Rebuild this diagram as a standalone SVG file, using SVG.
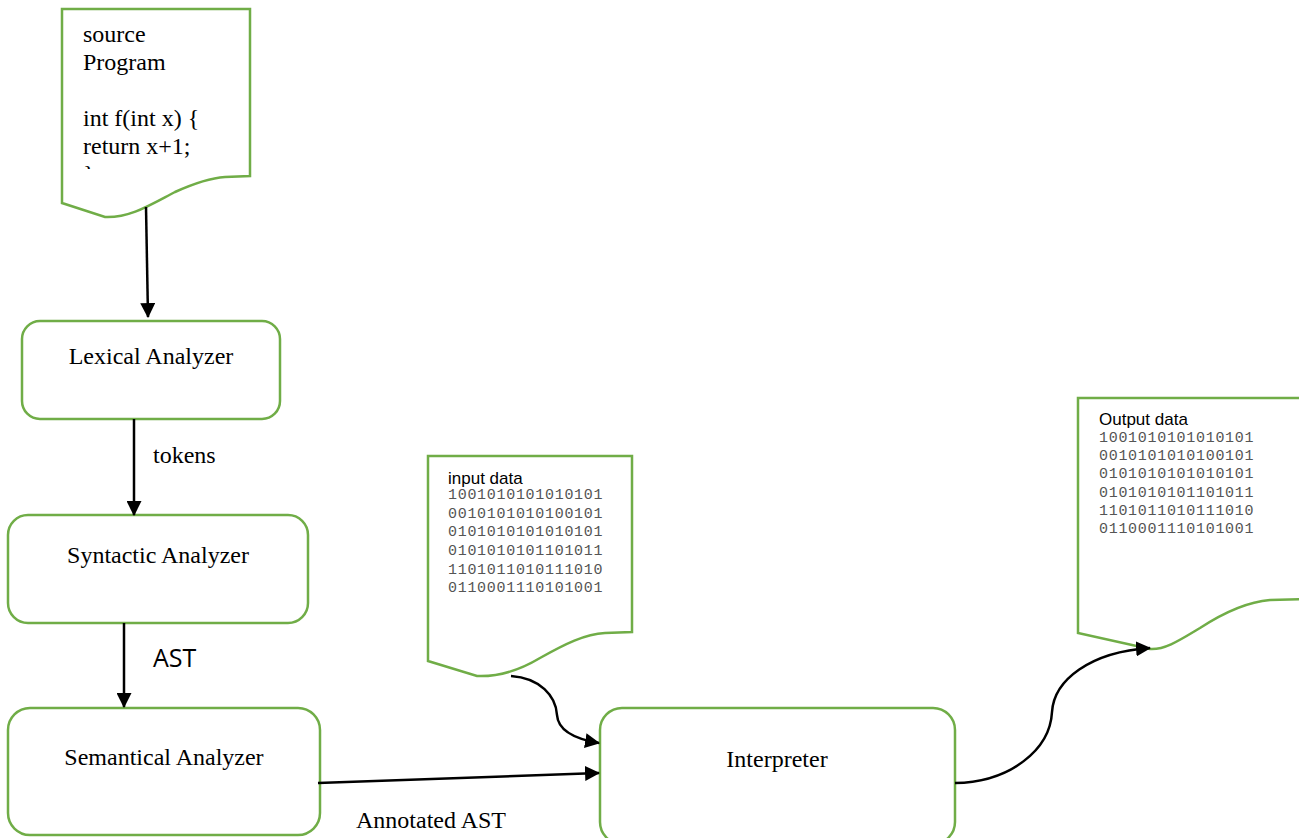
<svg xmlns="http://www.w3.org/2000/svg" width="1299" height="838" viewBox="0 0 1299 838">
<style>
.shape{fill:#ffffff;stroke:#70AD47;stroke-width:2.5}
.serif{font-family:"Liberation Serif","Times New Roman",serif;font-size:24px;fill:#000}
.sans{font-family:"Liberation Sans",Arial,sans-serif;font-size:17px;fill:#000}
.bin{font-family:"Liberation Mono","DejaVu Sans Mono",monospace;font-size:15px;letter-spacing:0.7px;fill:#555}
.conn{fill:none;stroke:#000;stroke-width:2.5}
</style>
<defs>
<marker id="arr" viewBox="0 0 14 14" refX="13" refY="7" markerWidth="15" markerHeight="15" markerUnits="userSpaceOnUse" orient="auto">
<path d="M0,0 L14,7 L0,14 Z" fill="#000"/>
</marker>
<clipPath id="srcclip"><rect x="62" y="9" width="188" height="160"/></clipPath>
</defs>
<rect width="1299" height="838" fill="#ffffff"/>

<g id="source-program">
<path class="shape" d="M62,9 L250,9 L250,176 L225,177 C210,178 195,183 175,192 C150,205 130,218 105,217 L62,203 Z"/>
<g clip-path="url(#srcclip)" class="serif">
<text x="83" y="42">source</text>
<text x="83" y="70">Program</text>
<text x="83" y="126">int f(int x) {</text>
<text x="83" y="154">return x+1;</text>
<text x="83" y="182">}</text>
</g>
</g>

<g id="lexical-analyzer">
<rect class="shape" x="22" y="321" width="258" height="98" rx="18"/>
<text class="serif" x="151" y="364" text-anchor="middle">Lexical Analyzer</text>
</g>

<g id="syntactic-analyzer">
<rect class="shape" x="8" y="515" width="300" height="108" rx="20"/>
<text class="serif" x="158" y="563" text-anchor="middle">Syntactic Analyzer</text>
</g>

<g id="semantical-analyzer">
<rect class="shape" x="8" y="708" width="312" height="127" rx="22"/>
<text class="serif" x="164" y="765" text-anchor="middle">Semantical Analyzer</text>
</g>

<g id="interpreter">
<rect class="shape" x="600" y="708" width="355" height="136" rx="22"/>
<text class="serif" x="777" y="767" text-anchor="middle">Interpreter</text>
</g>

<g id="input-data">
<path class="shape" d="M428,456 L632,456 L632,632 L605,633 C585,634 565,644 540,658 C520,670 500,677 477,676 L428,661 Z"/>
<text class="sans" x="448" y="484">input data</text>
<g class="bin">
<text x="448" y="499">1001010101010101</text>
<text x="448" y="518">0010101010100101</text>
<text x="448" y="536">0101010101010101</text>
<text x="448" y="555">0101010101101011</text>
<text x="448" y="574">1101011010111010</text>
<text x="448" y="592">0110001110101001</text>
</g>
</g>

<g id="output-data">
<path class="shape" d="M1078,398 L1310,398 L1310,599 L1270,600 C1245,602 1220,615 1200,628 C1180,640 1165,650 1150,649 L1078,633 Z"/>
<text class="sans" x="1099" y="425">Output data</text>
<g class="bin">
<text x="1099" y="442">1001010101010101</text>
<text x="1099" y="460">0010101010100101</text>
<text x="1099" y="478">0101010101010101</text>
<text x="1099" y="497">0101010101101011</text>
<text x="1099" y="515">1101011010111010</text>
<text x="1099" y="533">0110001110101001</text>
</g>
</g>

<g id="connectors">
<line class="conn" x1="146" y1="207" x2="148" y2="317" marker-end="url(#arr)"/>
<line class="conn" x1="134" y1="419" x2="134" y2="515" marker-end="url(#arr)"/>
<text class="serif" x="153" y="463">tokens</text>
<line class="conn" x1="124" y1="623" x2="124" y2="707" marker-end="url(#arr)"/>
<text x="153" y="667" font-family="'Open Sans','Liberation Sans',sans-serif" font-size="25">AST</text>
<line class="conn" x1="318" y1="783" x2="599" y2="773" marker-end="url(#arr)"/>
<text class="serif" x="356" y="828">Annotated AST</text>
<path class="conn" d="M511,676 C540,678 556,696 557,715 C558,730 575,739 599,743" marker-end="url(#arr)"/>
<path class="conn" d="M955,783 C1010,782 1050,750 1052,712 C1054,680 1090,652 1150,648" marker-end="url(#arr)"/>
</g>
</svg>
